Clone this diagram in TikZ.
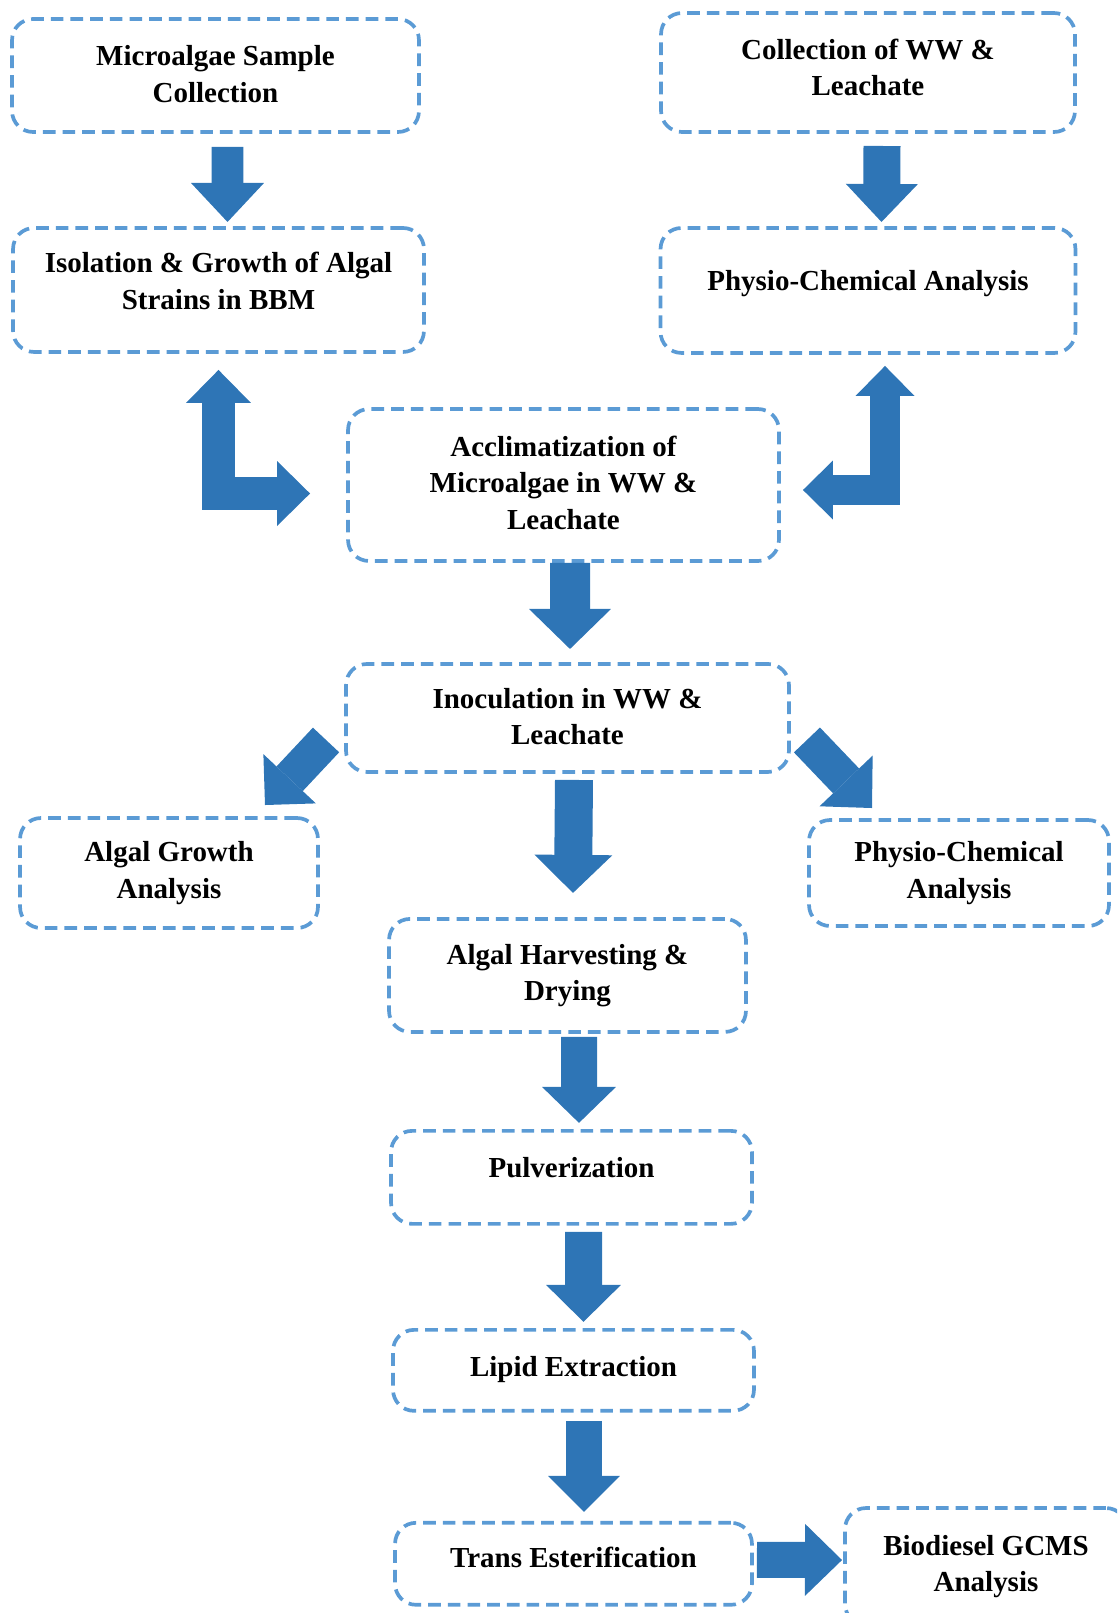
\documentclass[tikz,border=0pt]{standalone}
\usepackage{fontspec}
\setmainfont{Liberation Serif}
\usetikzlibrary{arrows.meta, calc, positioning}
\definecolor{boxblue}{RGB}{91,155,213}
\definecolor{arrowblue}{RGB}{46,117,182}

\begin{document}
\begin{tikzpicture}[x=0.02cm, y=-0.02cm, node distance=1.92cm]
    \tikzstyle{format} = [draw=boxblue, line width=2.1pt, dash pattern=on 7.2pt off 4pt,
	rounded corners=0.42cm, outer sep=0pt, inner sep=0pt, align=center,
	font=\bfseries\fontsize{16.5}{20.7}\selectfont]
    % extra depth under the text lifts it a little inside the box
    \tikzset{lift/.style={execute at end node={\rule[-#1]{0pt}{#1}}}}
    \tikzset{fat/.style n args={3}{draw=arrowblue, line width=#1,
	-{Triangle[width=#2, length=#3, line width=0pt]}}}
    \tikzset{bent/.style n args={3}{draw=arrowblue, line width=#1,
	{Triangle[width=#2, length=#3, line width=0pt]}-{Triangle[width=#2, length=#3, line width=0pt]}}}

    \useasboundingbox (0,0) rectangle (1117,1613);
    \clip (0,0) rectangle (1117,1613);

		\path
			node[format, minimum width=8.14cm, minimum height=2.26cm, lift=0.06cm] (1) at (215.5,75.5) {Microalgae Sample\\Collection}
			node[format, minimum width=8.28cm, minimum height=2.38cm, lift=0.2cm] (2) at (868,72.5) {Collection of WW \&\\Leachate}
			node[format, minimum width=8.22cm, minimum height=2.48cm, lift=0.36cm, below=of 1, xshift=0.06cm] (3) {Isolation \& Growth of Algal\\Strains in BBM}
			node[format, minimum width=8.30cm, minimum height=2.50cm, lift=0.4cm, below=of 2] (4) {Physio-Chemical Analysis}
			node[format, minimum width=8.62cm, minimum height=3.04cm, lift=0.1cm] (5) at (563.5,485) {Acclimatization of\\Microalgae in WW \&\\Leachate}
			node[format, minimum width=8.86cm, minimum height=2.16cm, lift=0.06cm, below=2.06cm of 5, xshift=0.08cm] (6) {Inoculation in WW \&\\Leachate}
			node[format, minimum width=5.96cm, minimum height=2.20cm] (7) at (169,873) {Algal Growth\\Analysis}
			node[format, minimum width=6.00cm, minimum height=2.12cm] (8) at (959,873) {Physio-Chemical\\Analysis}
			node[format, minimum width=7.14cm, minimum height=2.26cm, below=2.94cm of 6] (9) {Algal Harvesting \&\\Drying}
			node[format, minimum width=7.22cm, minimum height=1.86cm, lift=0.4cm, below=1.98cm of 9, xshift=0.08cm] (10) {Pulverization}
			node[format, minimum width=7.22cm, minimum height=1.62cm, lift=0.16cm, below=2.12cm of 10, xshift=0.04cm] (11) {Lipid Extraction}
			node[format, minimum width=7.14cm, minimum height=1.64cm, lift=0.26cm, below=2.24cm of 11] (12) {Trans Esterification}
			node[format, minimum width=5.64cm, minimum height=2.34cm, lift=0.06cm] (13) at (986,1566.5) {Biodiesel GCMS\\Analysis}

			($(1.south)+(12,15)$) edge[fat={0.64cm}{1.46cm}{0.78cm}] ($(3.north)+(9,-6)$)
			($(2.south)+(14,14)$) edge[fat={0.74cm}{1.44cm}{0.76cm}] ($(4.north)+(13.5,-6)$)
			($(5.south)+(6.5,2)$) edge[fat={0.80cm}{1.64cm}{0.80cm}] ($(6.north)+(2.5,-15)$)
			($(6.south)+(6.5,8)$) edge[fat={0.76cm}{1.56cm}{0.76cm}] ($(9.north)+(5.5,-26)$)
			($(6.west)+(-20,22)$) edge[fat={0.72cm}{1.44cm}{0.72cm}] ($(7.north)+(96,-13)$)
			($(6.east)+(18,22)$) edge[fat={0.72cm}{1.47cm}{0.75cm}] ($(8.north)+(-87,-12)$)
			($(9.south)+(11.5,5)$) edge[fat={0.72cm}{1.48cm}{0.72cm}] ($(10.north)+(7.5,-8)$)
			($(10.south)+(12,8)$) edge[fat={0.74cm}{1.50cm}{0.74cm}] ($(11.north)+(10,-8)$)
			($(11.south)+(10.5,10)$) edge[fat={0.72cm}{1.44cm}{0.72cm}] ($(12.north)+(10.5,-11)$)
			($(12.east)+(5,-4)$) edge[fat={0.72cm}{1.44cm}{0.74cm}] ($(13.west)+(-3,-6.5)$)
		;

		% bent arrows into the acclimatization step
		\draw[bent={0.66cm}{1.30cm}{0.66cm}] ($(3.south)+(0,18)$) |- ($(5.west)+(-38,8.5)$);
		\draw[bent={0.60cm}{1.18cm}{0.60cm}] ($(4.south)+(17,13)$) |- ($(5.east)+(24,5)$);

\end{tikzpicture}
\end{document}
